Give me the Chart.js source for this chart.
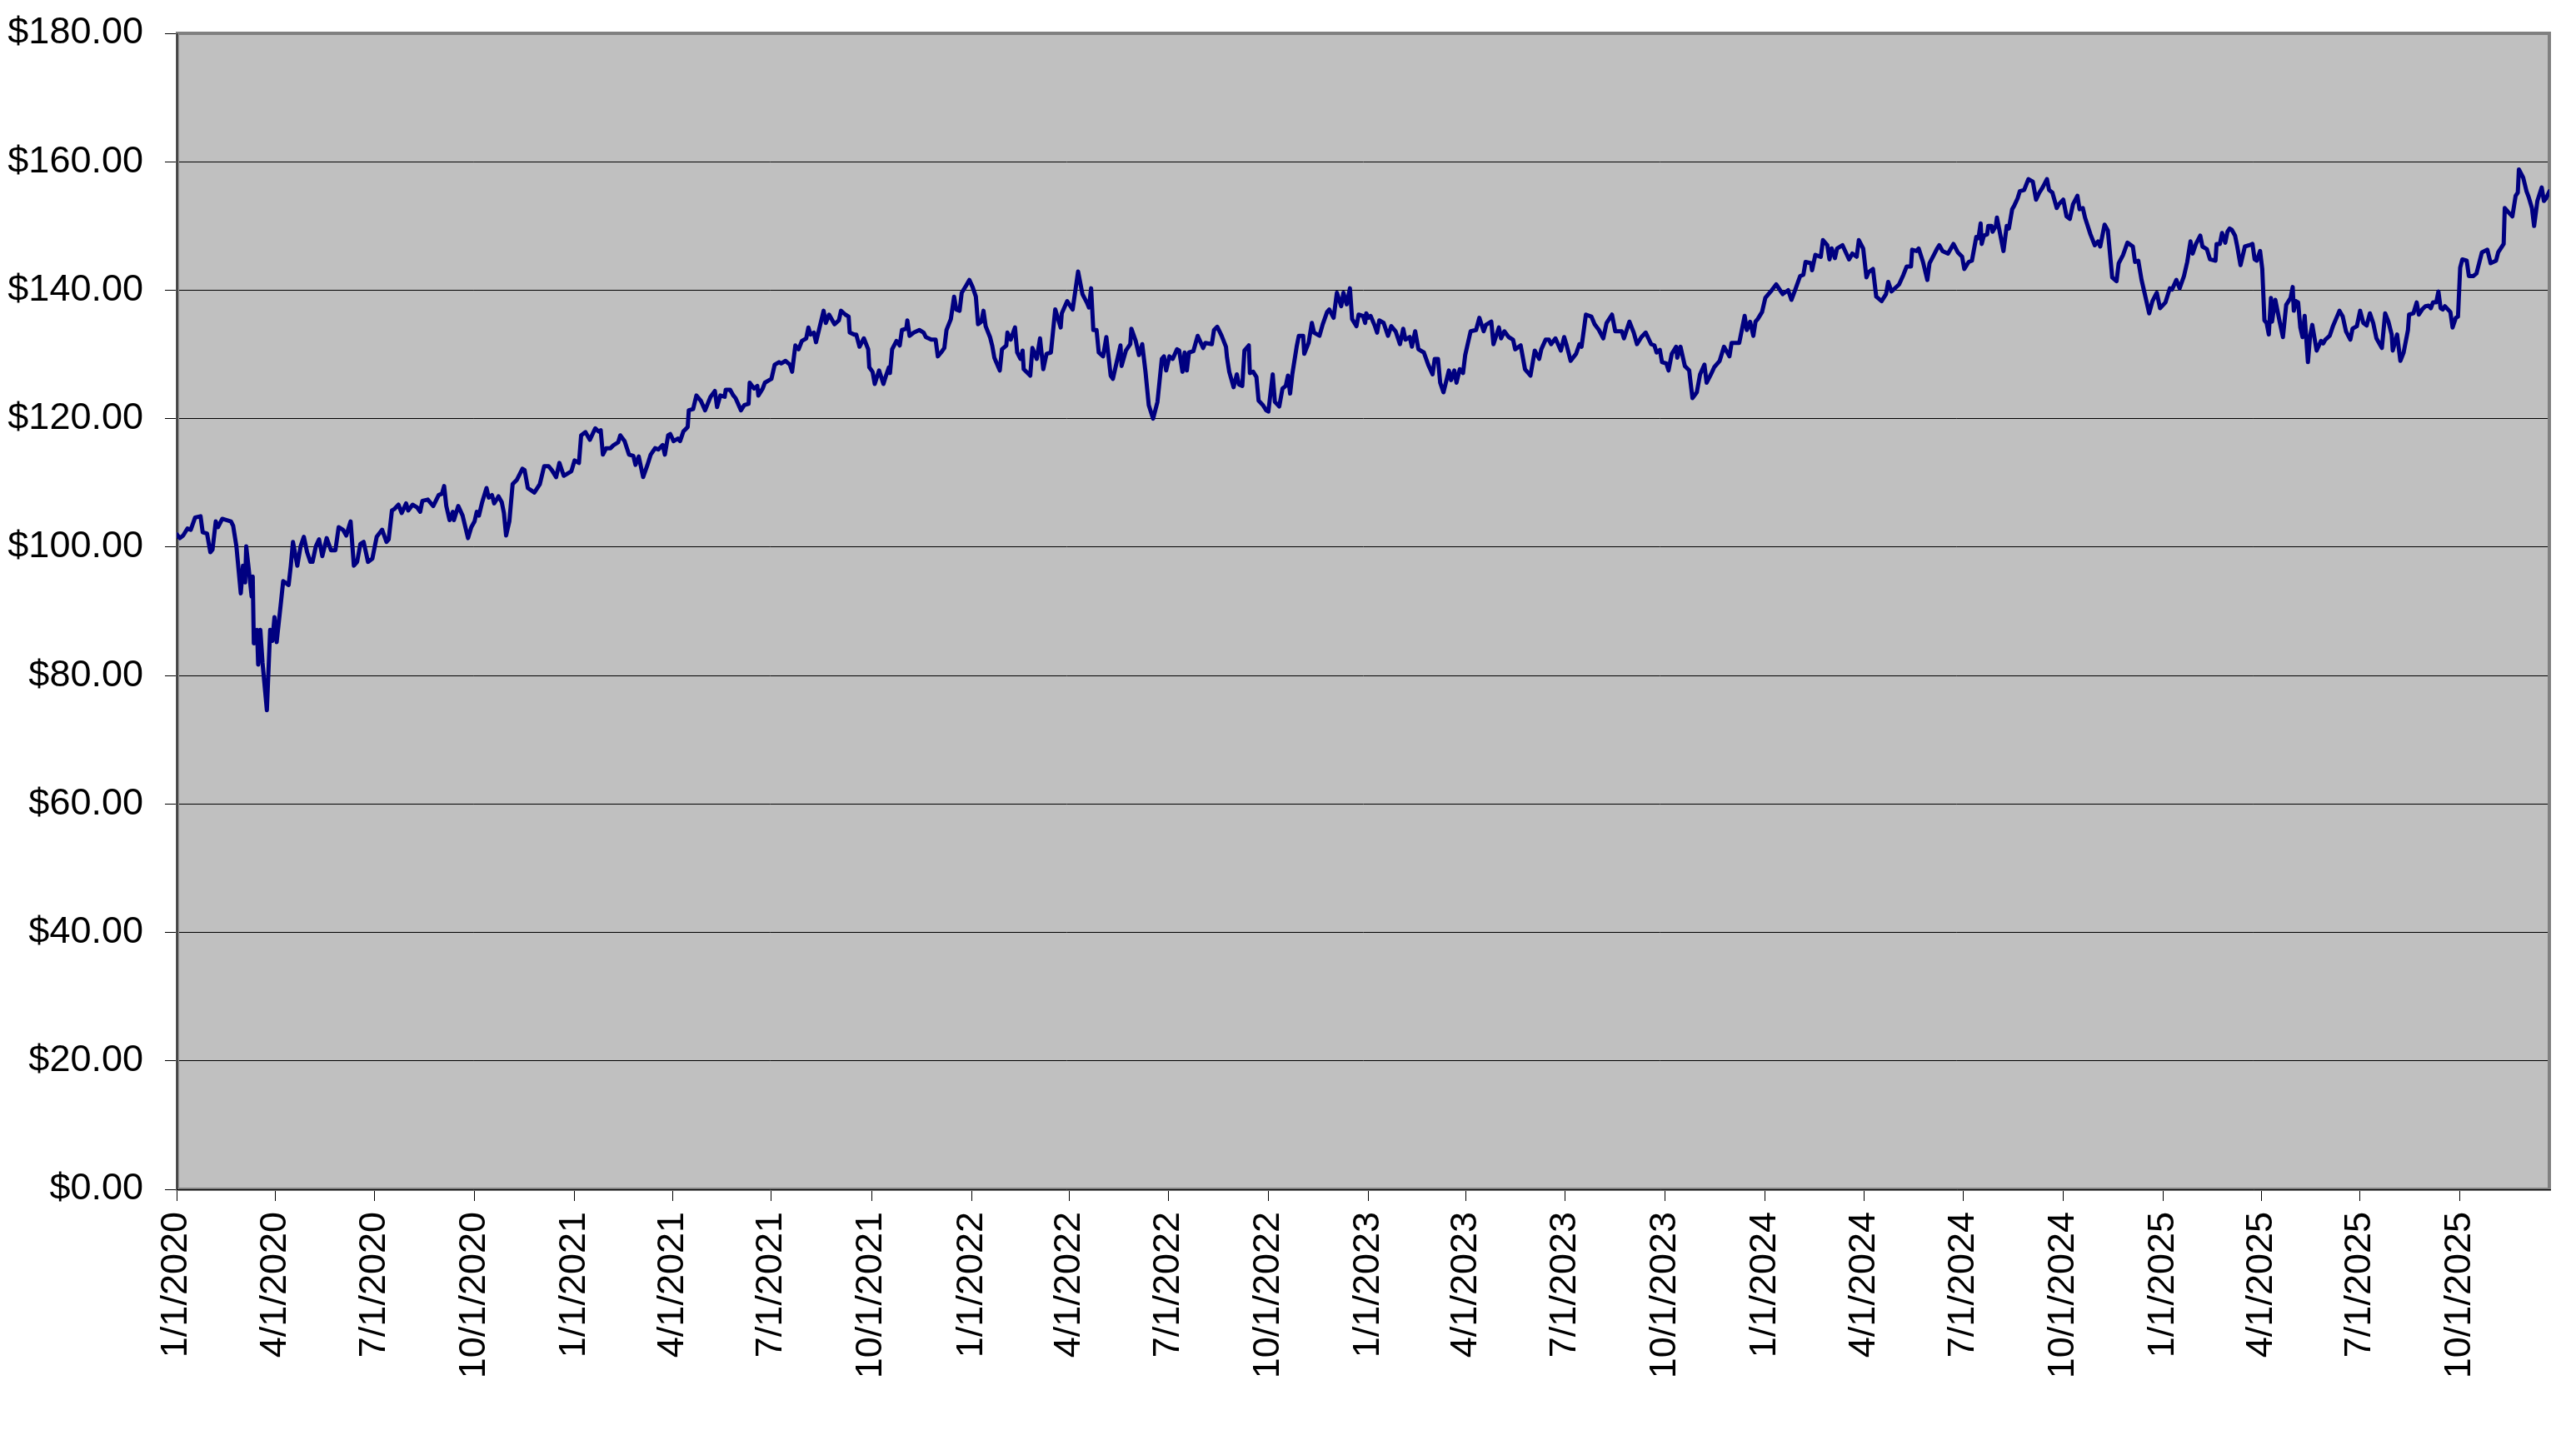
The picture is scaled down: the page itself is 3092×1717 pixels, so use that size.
<!DOCTYPE html>
<html>
<head>
<meta charset="utf-8">
<script src="https://cdn.jsdelivr.net/npm/chart.js@4/dist/chart.umd.min.js"></script>
<style>
html,body{margin:0;padding:0;background:#ffffff;}
#wrap{width:3092px;height:1717px;}
</style>
</head>
<body>
<div id="wrap"><canvas id="c" width="3092" height="1717"></canvas></div>
<script>
// x tick labels (quarter starts)
const tickLabels = ['1/1/2020','4/1/2020','7/1/2020','10/1/2020','1/1/2021','4/1/2021','7/1/2021','10/1/2021',
  '1/1/2022','4/1/2022','7/1/2022','10/1/2022','1/1/2023','4/1/2023','7/1/2023','10/1/2023',
  '1/1/2024','4/1/2024','7/1/2024','10/1/2024','1/1/2025','4/1/2025','7/1/2025','10/1/2025'];
const axisStart = '1/1/2020';   // first date of the axis
const axisEnd = '12/22/2025';   // last date of the axis
const yMin = 0, yMax = 180, yStep = 20;

// [days since 1/1/2020, price]
const prices2020 = [[0,102.0],[3,101.4],[6,101.8],[10,102.9],[13,102.7],[17,104.6],[22,104.8],[24,102.3],[28,102.1],[31,99.2],[33,99.6],[36,104.0],[38,103.1],[42,104.4],[50,104.0],[52,103.3],[55,100.1],[59,92.8],[61,97.1],[63,94.5],[64,100.1],[66,97.1],[69,92.3],[70,95.4],[71,85.0],[74,87.1],[75,81.7],[77,87.1],[79,82.0],[83,74.6],[86,87.1],[88,85.4],[90,89.1],[92,85.2],[96,91.5],[98,94.7],[103,94.1],[105,97.1],[107,100.8],[111,97.1],[114,100.1],[117,101.6],[120,99.2],[123,97.7],[125,97.7],[128,100.1],[131,101.2],[134,98.6],[138,101.4],[142,99.5],[146,99.5],[149,103.1],[153,102.7],[156,101.8],[160,104.0],[163,97.1],[166,97.7],[169,100.5],[172,100.8],[176,97.7],[180,98.2],[184,101.6],[189,102.7],[193,100.8],[195,101.2],[198,105.7],[200,105.9],[204,106.6],[207,105.3],[211,106.8],[213,105.7],[217,106.6],[221,106.2],[224,105.5],[226,107.2],[231,107.4],[236,106.4],[241,108.1],[244,108.3],[246,109.5],[248,106.4],[251,104.2],[254,105.5],[255,104.2],[259,106.4],[263,104.9],[268,101.4],[271,103.1],[274,104.0],[276,105.5],[278,104.9],[281,107.0],[285,109.2],[287,107.7],[290,108.1],[292,106.8],[296,107.9],[299,107.0],[301,105.3],[303,101.8],[306,104.0],[309,109.8],[313,110.5],[318,112.2],[320,112.0],[323,109.2],[329,108.5],[334,109.8],[338,112.6],[342,112.6],[345,112.0],[349,110.9],[352,113.1],[356,111.1],[363,111.8]];

const prices2021 = [[366,113.5],[370,113.1],[372,117.4],[376,117.9],[380,116.7],[385,118.5],[388,118.0],[390,118.2],[392,114.4],[395,115.4],[399,115.4],[402,115.9],[406,116.3],[408,117.4],[412,116.5],[416,114.4],[420,114.2],[422,112.8],[425,114.1],[429,110.9],[433,112.8],[436,114.4],[440,115.4],[443,115.2],[447,115.9],[449,114.4],[452,117.4],[454,117.6],[457,116.5],[461,116.9],[463,116.5],[466,118.0],[470,118.7],[471,121.3],[475,121.5],[478,123.6],[482,122.8],[486,121.3],[491,123.4],[495,124.3],[497,121.8],[500,123.6],[504,123.4],[505,124.5],[509,124.5],[512,123.6],[514,123.2],[519,121.3],[522,122.1],[526,122.3],[527,125.6],[531,124.7],[534,125.1],[535,123.6],[539,124.7],[541,125.6],[545,126.0],[547,126.2],[550,128.4],[554,128.8],[556,128.6],[560,129.0],[564,128.4],[566,127.3],[569,131.4],[572,130.8],[575,132.1],[579,132.5],[581,134.2],[583,133.1],[586,133.4],[588,131.9],[591,134.0],[595,136.8],[597,134.9],[600,136.2],[605,134.7],[609,135.3],[611,136.8],[615,136.2],[618,135.9],[619,133.4],[623,133.1],[625,133.1],[628,131.2],[632,132.5],[636,130.8],[637,128.0],[640,127.3],[642,125.4],[646,127.5],[650,125.4],[652,126.5],[655,128.0],[656,127.1],[658,130.8],[662,132.1],[665,131.4],[667,133.8],[671,134.0],[672,135.3],[674,132.9],[678,133.4],[683,133.8],[687,133.4],[689,132.7],[694,132.3],[698,132.3],[700,129.7],[703,130.3],[706,131.0],[708,133.8],[712,135.5],[715,139.0],[717,137.0],[720,136.8],[722,139.6],[726,140.7],[729,141.6]];

const prices2022 = [[732,140.5],[735,139.0],[737,134.7],[740,135.1],[742,136.8],[744,134.4],[748,132.7],[750,131.4],[752,129.5],[757,127.5],[759,130.8],[763,131.4],[764,133.4],[767,132.3],[771,134.2],[773,130.3],[776,129.3],[778,130.6],[779,127.7],[785,126.7],[787,131.0],[791,129.3],[794,132.5],[797,127.7],[800,130.1],[804,130.3],[808,137.0],[813,134.2],[814,136.4],[819,138.3],[824,137.0],[829,142.9],[833,139.4],[837,138.1],[839,137.3],[841,140.3],[843,133.8],[846,133.8],[848,130.3],[852,129.7],[855,132.7],[859,126.7],[861,126.2],[868,131.4],[869,128.2],[873,130.6],[877,131.6],[878,134.0],[882,132.1],[885,129.9],[888,131.6],[891,127.3],[894,122.1],[898,120.0],[902,122.6],[906,129.3],[908,129.7],[910,127.5],[913,129.7],[916,129.3],[920,130.8],[922,130.6],[925,127.3],[927,130.3],[929,127.5],[931,130.3],[935,130.5],[939,132.9],[944,131.0],[946,131.8],[952,131.6],[954,133.8],[957,134.3],[961,132.9],[965,131.2],[966,129.5],[968,127.3],[972,124.9],[975,126.9],[977,125.3],[980,125.1],[982,130.6],[986,131.4],[987,127.1],[990,127.3],[993,126.5],[995,122.8],[999,122.1],[1002,121.3],[1004,121.1],[1008,126.9],[1010,122.6],[1014,121.9],[1017,124.7],[1020,125.1],[1022,126.7],[1024,123.9],[1026,126.9],[1030,131.2],[1032,132.9],[1036,132.9],[1037,130.1],[1041,131.8],[1044,134.9],[1046,133.4],[1051,132.9],[1054,134.7],[1058,136.6],[1060,137.0],[1064,135.7],[1067,139.6],[1071,137.5],[1073,139.6],[1076,137.8],[1079,140.3],[1081,135.5],[1085,134.4],[1087,136.2],[1091,136.0],[1093,134.9],[1094,136.4],[1096,135.7]];

const prices2023 = [[1098,136.0],[1102,134.4],[1104,133.4],[1106,135.3],[1110,134.9],[1114,132.9],[1117,134.4],[1121,133.6],[1125,131.6],[1128,134.0],[1130,132.3],[1134,132.7],[1136,131.2],[1139,133.6],[1142,130.8],[1147,130.3],[1151,128.4],[1155,126.9],[1157,129.3],[1160,129.3],[1162,125.6],[1165,124.1],[1170,127.5],[1172,126.0],[1175,127.5],[1177,125.6],[1180,127.7],[1183,127.1],[1185,129.9],[1190,133.6],[1195,133.8],[1198,135.7],[1202,133.6],[1204,134.6],[1209,135.1],[1211,131.6],[1216,134.2],[1218,132.5],[1221,133.6],[1225,132.7],[1229,132.3],[1231,130.8],[1236,131.4],[1240,127.7],[1245,126.7],[1249,130.6],[1253,129.3],[1255,130.8],[1259,132.3],[1262,132.3],[1264,131.6],[1268,132.5],[1273,130.6],[1276,132.7],[1278,131.6],[1282,129.0],[1287,130.1],[1290,131.6],[1292,131.2],[1296,136.2],[1301,135.9],[1304,134.7],[1308,133.8],[1312,132.5],[1315,134.9],[1320,136.2],[1323,133.6],[1329,133.6],[1331,132.5],[1336,135.1],[1340,133.4],[1343,131.6],[1347,132.7],[1351,133.4],[1356,131.6],[1359,131.4],[1361,130.3],[1364,130.7],[1366,128.8],[1370,128.6],[1372,127.5],[1375,130.1],[1379,131.2],[1380,129.5],[1383,131.2],[1387,128.2],[1391,127.5],[1392,126.0],[1394,123.2],[1398,124.1],[1401,126.9],[1405,128.4],[1407,125.6],[1411,126.9],[1414,128.0],[1419,129.0],[1423,131.2],[1428,129.7],[1430,131.8],[1437,131.8],[1442,136.0],[1444,133.8],[1447,135.1],[1450,132.9],[1452,135.1],[1454,135.5],[1458,136.6],[1461,138.8]];

const prices2024 = [[1466,139.8],[1471,140.9],[1477,139.4],[1482,140.0],[1485,138.5],[1489,140.3],[1493,142.2],[1496,142.4],[1498,144.4],[1503,144.2],[1504,143.1],[1507,145.5],[1512,145.2],[1514,147.8],[1518,147.0],[1520,144.8],[1522,146.5],[1525,145.0],[1527,146.5],[1532,147.0],[1535,145.9],[1538,144.8],[1541,145.7],[1545,145.2],[1547,147.8],[1551,146.5],[1554,142.0],[1556,142.8],[1560,143.3],[1563,139.0],[1568,138.3],[1572,139.4],[1574,141.3],[1577,139.8],[1584,140.9],[1588,142.4],[1591,143.7],[1595,143.7],[1596,146.3],[1600,146.1],[1602,146.5],[1606,144.4],[1610,141.6],[1612,144.2],[1616,145.5],[1619,146.5],[1621,147.0],[1624,146.1],[1629,145.7],[1634,147.2],[1638,145.9],[1642,145.2],[1644,143.3],[1648,144.4],[1651,144.6],[1655,148.3],[1657,148.1],[1659,150.4],[1660,147.2],[1662,148.5],[1665,148.7],[1666,150.0],[1669,150.0],[1670,149.1],[1673,150.0],[1674,151.3],[1676,149.6],[1680,146.1],[1683,150.0],[1685,149.6],[1688,152.6],[1690,153.2],[1693,154.3],[1695,155.4],[1699,155.6],[1703,157.3],[1707,156.9],[1710,154.1],[1713,155.2],[1716,156.0],[1720,157.3],[1722,155.6],[1725,155.2],[1729,152.8],[1731,153.4],[1735,154.1],[1738,151.5],[1741,151.1],[1744,153.4],[1748,154.7],[1750,152.6],[1753,152.8],[1755,151.3],[1760,148.7],[1764,147.0],[1767,147.6],[1769,146.8],[1773,150.2],[1776,149.3],[1780,142.0],[1784,141.4],[1786,144.2],[1790,145.5],[1794,147.4],[1799,146.8],[1801,144.4],[1804,144.6],[1807,141.6],[1810,139.4],[1814,136.4],[1817,138.3],[1821,139.6],[1824,137.2]];

const prices2025 = [[1829,138.1],[1833,140.3],[1835,140.1],[1839,141.6],[1842,140.3],[1846,142.2],[1849,144.4],[1852,147.6],[1854,145.7],[1857,147.2],[1861,148.5],[1863,146.8],[1867,146.4],[1870,144.8],[1875,144.6],[1876,147.2],[1879,147.2],[1881,148.9],[1884,147.4],[1886,149.1],[1888,149.6],[1890,149.4],[1893,148.5],[1895,146.8],[1898,143.9],[1902,146.8],[1906,147.0],[1909,147.2],[1911,144.8],[1913,144.6],[1916,146.1],[1918,143.3],[1920,135.3],[1922,134.9],[1924,133.1],[1926,138.8],[1927,135.1],[1930,138.5],[1934,135.1],[1937,132.7],[1940,137.7],[1944,138.8],[1946,140.5],[1947,136.8],[1949,138.3],[1951,138.1],[1953,134.2],[1955,132.7],[1957,136.0],[1960,128.8],[1962,132.9],[1964,134.6],[1968,130.6],[1972,132.1],[1974,131.7],[1976,132.3],[1980,132.9],[1983,134.4],[1989,136.8],[1992,135.9],[1995,133.6],[1999,132.3],[2001,134.0],[2005,134.4],[2008,136.8],[2011,134.9],[2014,134.5],[2017,136.4],[2020,134.9],[2023,132.5],[2028,131.0],[2031,136.4],[2034,135.1],[2037,133.1],[2038,130.6],[2042,133.1],[2045,129.0],[2048,130.3],[2052,133.8],[2053,136.2],[2057,136.4],[2060,138.1],[2062,136.2],[2065,137.0],[2068,137.5],[2071,137.6],[2073,137.2],[2075,138.1],[2078,138.1],[2080,139.8],[2082,137.2],[2084,137.0],[2086,137.5],[2091,136.6],[2093,134.2],[2096,135.7],[2098,135.9],[2100,143.5],[2102,144.8],[2106,144.6],[2108,142.2],[2112,142.2],[2115,142.6],[2120,145.9],[2125,146.3],[2128,144.2],[2133,144.6],[2135,145.9],[2140,147.2],[2141,152.8],[2144,152.2],[2148,151.5],[2151,154.7],[2153,155.2],[2154,158.8],[2158,157.5],[2161,155.4],[2163,154.5],[2166,152.8],[2168,150.0],[2171,153.9],[2175,156.0],[2177,153.9],[2179,154.3],[2182,155.4]];

// ---- build ----
const DAY = 86400000;
const parseMDY = s => { const [m,d,y] = s.split('/').map(Number); return Date.UTC(y, m-1, d); };
const origin = parseMDY(axisStart);
const toDay = s => Math.round((parseMDY(s) - origin) / DAY);
const tickDays = tickLabels.map(toDay);
const lastDay = toDay(axisEnd);

const series = [].concat(prices2020, prices2021, prices2022, prices2023, prices2024, prices2025)
  .map(p => ({x: p[0], y: p[1]}));

const FONT = {family: "'Liberation Sans', Arial, Helvetica, sans-serif", size: 45};

const plotFrame = {
  id: 'plotFrame',
  beforeDraw(chart) {
    const {ctx, chartArea: a} = chart;
    ctx.save();
    ctx.fillStyle = '#C0C0C0';
    ctx.fillRect(a.left, a.top, a.right - a.left, a.bottom - a.top);
    ctx.restore();
  },
  beforeDatasetsDraw(chart) {
    const {ctx, chartArea: a} = chart;
    ctx.save();
    ctx.strokeStyle = '#808080';
    ctx.lineWidth = 4;
    ctx.strokeRect(a.left + 1, a.top, a.right - a.left - 1, a.bottom - a.top);
    ctx.strokeStyle = '#000000';
    ctx.lineWidth = 1;
    ctx.beginPath();
    ctx.moveTo(a.left + 0.5, a.top);
    ctx.lineTo(a.left + 0.5, a.bottom);
    ctx.moveTo(a.left, a.bottom + 0.5);
    ctx.lineTo(a.right + 2, a.bottom + 0.5);
    ctx.stroke();
    ctx.restore();
  }
};

new Chart(document.getElementById('c'), {
  type: 'line',
  data: {
    datasets: [{
      data: series,
      borderColor: '#000080',
      borderWidth: 5,
      pointRadius: 0,
      pointHoverRadius: 0,
      tension: 0,
      fill: false,
      borderJoinStyle: 'round',
      borderCapStyle: 'round'
    }]
  },
  options: {
    responsive: false,
    animation: false,
    devicePixelRatio: 1,
    layout: {padding: {left: 0, top: 40, right: 32, bottom: 0}},
    plugins: {legend: {display: false}, tooltip: {enabled: false}},
    scales: {
      x: {
        type: 'linear',
        min: 0,
        max: lastDay,
        afterBuildTicks: s => { s.ticks = tickDays.map(v => ({value: v})); },
        afterFit: s => { s.height = 289; s.paddingLeft = 0; s.paddingRight = 0; },
        grid: {drawOnChartArea: false, drawTicks: true, tickLength: 14, color: '#000', tickColor: '#000', lineWidth: 1},
        border: {display: true, color: '#000', width: 1},
        ticks: {
          autoSkip: false, minRotation: 90, maxRotation: 90, padding: 13,
          color: '#000', font: FONT,
          callback: v => { const i = tickDays.indexOf(v); return i >= 0 ? tickLabels[i] : ''; }
        }
      },
      y: {
        min: yMin,
        max: yMax,
        afterFit: s => { s.width = 212; s.paddingTop = 0; s.paddingBottom = 0; },
        grid: {color: '#000', lineWidth: 1, drawTicks: true, tickLength: 14, tickColor: '#000'},
        border: {display: true, color: '#000', width: 1},
        ticks: {
          stepSize: yStep, padding: 26, color: '#000', font: FONT,
          callback: v => '$' + Number(v).toFixed(2)
        }
      }
    }
  },
  plugins: [plotFrame]
});
</script>
</body>
</html>
